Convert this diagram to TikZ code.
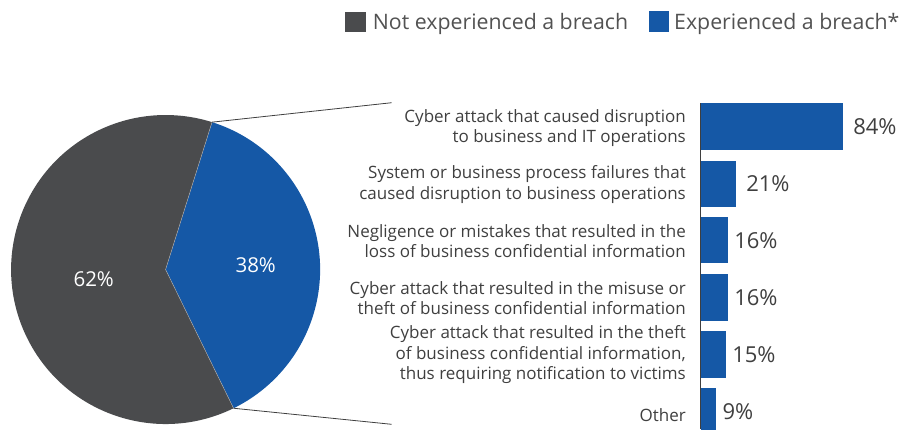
\documentclass[tikz,border=0pt]{standalone}
\usepackage{fontspec}
\setmainfont{Open Sans}
\usetikzlibrary{calc}
\definecolor{dgray}{HTML}{4A4B4D}
\definecolor{bblue}{HTML}{1558A6}
\definecolor{txt}{HTML}{3F3F3F}
\begin{document}
\begin{tikzpicture}[x=1pt,y=-1pt,
  lbl/.style={anchor=east,align=right,font=\fontsize{17}{20.5}\selectfont,text=txt,inner sep=0pt},
  pct/.style={anchor=west,font=\fontsize{22}{24}\selectfont,text=txt,inner sep=0pt},
  bar/.style={fill=bblue,draw=none,inner sep=0pt,anchor=north west,minimum height=46.5pt},
  key/.style={inner sep=0pt,minimum size=20.7pt,anchor=north west},
  keytxt/.style={anchor=base west,font=\fontsize{21.3}{24}\selectfont,text=txt!90!white,inner sep=0pt},
  conn/.style={draw=txt,line width=0.8pt}]
\useasboundingbox (0,0) rectangle (899,429);
% legend
\node[key,fill=dgray] (k1) at (345,11.5) {};
\node[keytxt] (t1) at (372.7,29.8) {Not experienced a breach};
\node[key,fill=bblue] (k2) at (648.3,11.2) {};
\node[keytxt] (t2) at (674,29.8) {Experienced a breach*};
% pie
\coordinate (c) at (165.6,269.5);
\fill[bblue] (c) -- ++(-72.5:154.5) arc[start angle=-72.5,end angle=63.9,radius=154.5] -- cycle;
\fill[dgray] (c) -- ++(63.9:154.5) arc[start angle=63.9,end angle=287.5,radius=154.5] -- cycle;
\draw[gray!60,line width=0.4pt] ($(c)+(-72.5:154.5)$) -- (c) -- ($(c)+(63.9:154.5)$);
\node[text=white,font=\fontsize{20.5}{24}\selectfont] (p62) at (93.7,279.3) {62\%};
\node[text=white,font=\fontsize{20.5}{24}\selectfont] (p38) at (255.7,265) {38\%};
\coordinate (pt) at ($(c)+(-72.5:154.5)$);
\coordinate (pb) at ($(c)+(63.9:154.5)$);
\coordinate (lt) at (391.7,102.7);
\coordinate (lb) at (391.7,424.3);
\draw[conn] (pt) -- (lt);
\draw[conn] (pb) -- (lb);
% axis
\draw[txt,line width=0.9pt] (700.7,103) -- (700.7,429);
% bars
\node[bar,minimum width=142pt] (b1) at (700.7,103) {};
\node[bar,minimum width=35pt] (b2) at (700.7,160.3) {};
\node[bar,minimum width=27pt] (b3) at (700.7,216.7) {};
\node[bar,minimum width=27pt] (b4) at (700.7,274) {};
\node[bar,minimum width=25pt] (b5) at (700.7,331) {};
\node[bar,minimum width=15.3pt] (b6) at (700.7,388) {};
\node[pct] (v1) at ([xshift=10pt]b1.east) {84\%};
\node[pct] (v2) at ([xshift=10pt]b2.east) {21\%};
\node[pct] (v3) at ([xshift=6pt]b3.east) {16\%};
\node[pct] (v4) at ([xshift=6pt]b4.east) {16\%};
\node[pct] (v5) at ([xshift=6pt]b5.east) {15\%};
\node[pct] (v6) at ([xshift=6pt]b6.east) {9\%};
% labels
\node[lbl] (l1) at (686,128) {Cyber attack that caused disruption\\to business and IT operations};
\node[lbl] (l2) at (686,184.5) {System or business process failures that\\caused disruption to business operations};
\node[lbl] (l3) at (686,241) {Negligence or mistakes that resulted in the\\loss of business confidential information};
\node[lbl] (l4) at (686,298) {Cyber attack that resulted in the misuse or\\theft of business confidential information};
\node[lbl] (l5) at (686,355) {Cyber attack that resulted in the theft\\of business confidential information,\\thus requiring notification to victims};
\node[lbl] (l6) at (686,415.5) {Other};
\end{tikzpicture}
\end{document}
